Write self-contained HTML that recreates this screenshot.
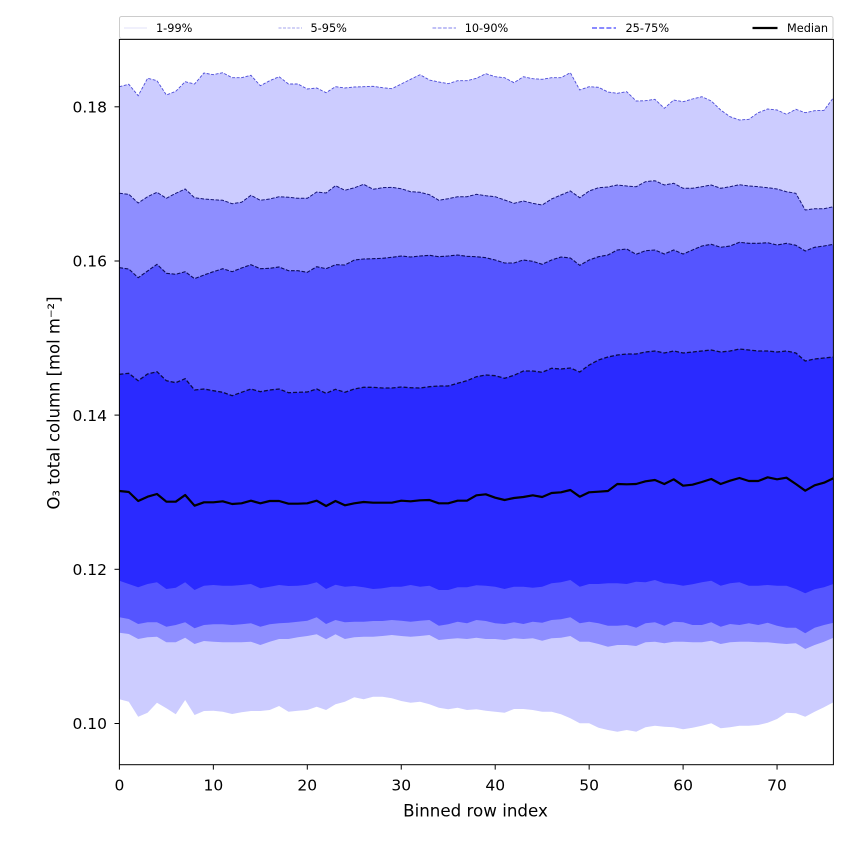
<!DOCTYPE html>
<html>
<head>
<meta charset="utf-8">
<style>
html,body{margin:0;padding:0;background:#fff;}
svg{display:block;}
text{font-family:"DejaVu Sans","Liberation Sans",sans-serif;fill:#000;}
</style>
</head>
<body>
<svg width="850" height="850" viewBox="0 0 850 850" xmlns="http://www.w3.org/2000/svg">
<rect x="0" y="0" width="850" height="850" fill="#fff"/>

<g transform="matrix(9.395 0 0 1 119.4 0)">
  <!-- 1-99 band -->
  <polygon fill="#ccccff" points="0,86.7 1,84.3 2,95.7 3,78.3 4,80.7 5,95 6,91.3 7,81.7 8,84 9,73 10,74.7 11,72.7 12,77.7 13,77.7 14,75.3 15,85.7 16,80.7 17,76.7 18,84 19,84 20,89 21,88 22,92.7 23,86.7 24,88 25,87 26,86.7 27,86.3 28,87.7 29,88.7 30,84 31,79.3 32,74.7 33,80 34,82 35,83.7 36,80.7 37,80.7 38,78.3 39,73.7 40,76.7 41,77.7 42,82.7 43,76.7 44,78.7 45,79.3 46,77.7 47,77.7 48,72.7 49,90 50,86.7 51,87.3 52,92 53,93.3 54,91.7 55,101 56,100.7 57,99.3 58,108.3 59,100 60,101.7 61,99 62,96.7 63,101 64,110 65,116.7 66,120 67,119.3 68,112.7 69,109 70,110 71,114.3 72,109.3 73,112.7 74,110.7 75,110.3 76,97.7 76,702.3 75,707.3 74,711.7 73,716.7 72,713.3 71,712.7 70,719 69,722.7 68,725 67,725.7 66,725.7 65,727.3 64,728.3 63,723.3 62,725.7 61,727.7 60,729.3 59,727.3 58,726.7 57,725.7 56,727.3 55,731.7 54,730 53,731.7 52,730 51,727.7 50,723.3 49,723.3 48,718.3 47,714.3 46,711.7 45,711.7 44,710 43,709 42,709 41,712.7 40,711.7 39,710.7 38,709.3 37,710 36,707.7 35,709.3 34,707.7 33,704.3 32,701.7 31,702.7 30,701 29,698.3 28,696.7 27,696.7 26,699.3 25,697.3 24,701.7 23,704.3 22,710 21,706.7 20,710 19,710.7 18,711.7 17,706 16,710 15,711 14,711 13,712.3 12,714 11,711.7 10,710.7 9,711 8,715 7,700 6,714.3 5,708.3 4,702.7 3,712.7 2,716.7 1,701.7 0,699.3"/>
  <!-- 5-95 band -->
  <polygon fill="#8e8eff" points="0,193.3 1,194.3 2,203 3,196.7 4,192.3 5,198.3 6,193.3 7,189 8,197.7 9,199 10,199.7 11,200.3 12,203.7 13,202.3 14,195.3 15,200.3 16,199 17,196.7 18,197.3 19,198.3 20,198.3 21,192 22,193 23,185.7 24,190.3 25,187.8 26,184.3 27,189.3 28,187.7 29,187.3 30,188.7 31,191.7 32,192.3 33,194.7 34,200.3 35,198.7 36,196.7 37,196.7 38,194.3 39,195.7 40,196.7 41,200 42,203.3 43,201 44,203.3 45,205 46,199 47,195 48,191 49,197.7 50,191 51,187.7 52,187 53,185 54,186 55,186.7 56,181.7 57,180.7 58,185 59,183.3 60,188.3 61,188.3 62,186.7 63,185 64,188.3 65,186.7 66,184.7 67,186 68,186.7 69,187.7 70,189 71,191.7 72,193.3 73,210 74,208.7 75,208.7 76,206.7 76,637.7 75,641.7 74,645 73,649 72,643.3 71,644 70,643.3 69,642.3 68,642.3 67,641.7 66,641.7 65,642.3 64,644 63,640.7 62,642.3 61,642.3 60,641.7 59,641.7 58,643.3 57,641.7 56,642.3 55,646 54,645 53,645 52,646.7 51,644 50,641.7 49,641.7 48,636 47,637.7 46,638.3 45,640.7 44,638.3 43,639 42,638.3 41,640 40,639 39,639 38,637.7 37,639 36,638.3 35,639 34,640 33,635 32,636 31,636.7 30,636 29,635 28,636 27,636.7 26,636.7 25,637.3 24,639 23,634.3 22,639.3 21,634.3 20,636 19,637.3 18,639 17,639 16,641.7 15,645 14,641.7 13,642.3 12,642.3 11,642.3 10,641.7 9,641 8,644 7,637.7 6,642.3 5,642.3 4,636.7 3,637.3 2,639 1,634 0,632.7"/>
  <!-- 10-90 band -->
  <polygon fill="#5555ff" points="0,267.7 1,269 2,277.7 3,271 4,264.3 5,273.3 6,274.3 7,271.7 8,278.7 9,275 10,271.7 11,268.7 12,271.7 13,268 14,264.7 15,268.7 16,268.3 17,267 18,270.7 19,270.7 20,272.3 21,266.7 22,268.7 23,264.7 24,265 25,260 26,259 27,258.7 28,258.3 29,257.3 30,256 31,257 32,256 33,255.3 34,256.7 35,256 36,255 37,256.3 38,256.7 39,257.7 40,260 41,263 42,263 43,260 44,261.3 45,264.3 46,260 47,257 48,258 49,265.3 50,260 51,256.7 52,255 53,250 54,249 55,254.3 56,250.7 57,250 58,254 59,250 60,254 61,250 62,246 63,244.3 64,247.3 65,246 66,242.3 67,243.3 68,243.3 69,242.7 70,245 71,243.3 72,245.3 73,251 74,247.3 75,246 76,244.3 76,622.7 75,625 74,627.7 73,633.3 72,627.7 71,627.7 70,625.7 69,622.7 68,625 67,623.3 66,625 65,624 64,626.7 63,622.3 62,625 61,625 60,622.3 59,621.7 58,625.7 57,622.3 56,623.3 55,627.7 54,625 53,625.7 52,625.7 51,623.3 50,621.7 49,623.3 48,617.3 47,619.3 46,620 45,622.7 44,621.7 43,624 42,622.3 41,624 40,623.3 39,621 38,620 37,623.3 36,621.7 35,624.3 34,625.7 33,620 32,620.7 31,621.7 30,620.7 29,620 28,621 27,621 26,621.7 25,621.7 24,622.3 23,620 22,624 21,617.3 20,620.7 19,621.7 18,622.7 17,623.3 16,624.3 15,626.7 14,623.3 13,624.3 12,625 11,624.3 10,624.3 9,625 8,628.3 7,622.3 6,625 5,626.7 4,622.3 3,622.3 2,624 1,619 0,617.3"/>
  <!-- 25-75 band -->
  <polygon fill="#2a2aff" points="0,374.3 1,373.3 2,380.7 3,374 4,371.7 5,380.7 6,382.7 7,378.7 8,390 9,389 10,390.7 11,392.3 12,395.7 13,392.3 14,389 15,391.7 16,390 17,389 18,392.7 19,392.3 20,392 21,389 22,393.3 23,389.3 24,392.3 25,389 26,387.3 27,387.3 28,388 29,388 30,387 31,387.7 32,388 33,386.7 34,386 35,386 36,383.3 37,380.7 38,376.7 39,375 40,375.7 41,378.3 42,375.3 43,371 44,371 45,372.3 46,368.3 47,369 48,368 49,372 50,365 51,360 52,357 53,355 54,354 55,354 56,352 57,351 58,353 59,351 60,353 61,352 62,351 63,350 64,352 65,351 66,349 67,350 68,351 69,351 70,352 71,351 72,353 73,361 74,359 75,358 76,357 76,584 75,587.3 74,589.3 73,593.3 72,589 71,585.7 70,585.7 69,585 68,585.7 67,585.7 66,582.3 65,583.3 64,585.7 63,580.7 62,582.3 61,584.3 60,585.7 59,584 58,583.3 57,580 56,582.3 55,581.7 54,584 53,583.3 52,583.3 51,584 50,584 49,586.7 48,580 47,582.3 46,583.3 45,586.7 44,587.7 43,586.7 42,586.7 41,589 40,586.7 39,585.7 38,585.3 37,587.3 36,587.3 35,590 34,590 33,585.7 32,586.7 31,585 30,586.7 29,586.7 28,588.3 27,589 26,587.3 25,586 24,586.7 23,584.7 22,589 21,582.3 20,584.7 19,585.7 18,586 17,585 16,586.7 15,588.3 14,584 13,585 12,585.7 11,585.7 10,585 9,585.7 8,590 7,582.3 6,587.7 5,589 4,582.3 3,584 2,587.3 1,584 0,580.7"/>

  <!-- boundary lines -->
  <polyline fill="none" stroke="#4c4cd8" stroke-width="0.9" stroke-dasharray="3,1.5" vector-effect="non-scaling-stroke" points="0,86.7 1,84.3 2,95.7 3,78.3 4,80.7 5,95 6,91.3 7,81.7 8,84 9,73 10,74.7 11,72.7 12,77.7 13,77.7 14,75.3 15,85.7 16,80.7 17,76.7 18,84 19,84 20,89 21,88 22,92.7 23,86.7 24,88 25,87 26,86.7 27,86.3 28,87.7 29,88.7 30,84 31,79.3 32,74.7 33,80 34,82 35,83.7 36,80.7 37,80.7 38,78.3 39,73.7 40,76.7 41,77.7 42,82.7 43,76.7 44,78.7 45,79.3 46,77.7 47,77.7 48,72.7 49,90 50,86.7 51,87.3 52,92 53,93.3 54,91.7 55,101 56,100.7 57,99.3 58,108.3 59,100 60,101.7 61,99 62,96.7 63,101 64,110 65,116.7 66,120 67,119.3 68,112.7 69,109 70,110 71,114.3 72,109.3 73,112.7 74,110.7 75,110.3 76,97.7"/>
  <polyline fill="none" stroke="#161678" stroke-width="1" stroke-dasharray="3.5,1.5" vector-effect="non-scaling-stroke" points="0,193.3 1,194.3 2,203 3,196.7 4,192.3 5,198.3 6,193.3 7,189 8,197.7 9,199 10,199.7 11,200.3 12,203.7 13,202.3 14,195.3 15,200.3 16,199 17,196.7 18,197.3 19,198.3 20,198.3 21,192 22,193 23,185.7 24,190.3 25,187.8 26,184.3 27,189.3 28,187.7 29,187.3 30,188.7 31,191.7 32,192.3 33,194.7 34,200.3 35,198.7 36,196.7 37,196.7 38,194.3 39,195.7 40,196.7 41,200 42,203.3 43,201 44,203.3 45,205 46,199 47,195 48,191 49,197.7 50,191 51,187.7 52,187 53,185 54,186 55,186.7 56,181.7 57,180.7 58,185 59,183.3 60,188.3 61,188.3 62,186.7 63,185 64,188.3 65,186.7 66,184.7 67,186 68,186.7 69,187.7 70,189 71,191.7 72,193.3 73,210 74,208.7 75,208.7 76,206.7"/>
  <polyline fill="none" stroke="#0c0c5a" stroke-width="1.1" stroke-dasharray="3.7,1.6" vector-effect="non-scaling-stroke" points="0,267.7 1,269 2,277.7 3,271 4,264.3 5,273.3 6,274.3 7,271.7 8,278.7 9,275 10,271.7 11,268.7 12,271.7 13,268 14,264.7 15,268.7 16,268.3 17,267 18,270.7 19,270.7 20,272.3 21,266.7 22,268.7 23,264.7 24,265 25,260 26,259 27,258.7 28,258.3 29,257.3 30,256 31,257 32,256 33,255.3 34,256.7 35,256 36,255 37,256.3 38,256.7 39,257.7 40,260 41,263 42,263 43,260 44,261.3 45,264.3 46,260 47,257 48,258 49,265.3 50,260 51,256.7 52,255 53,250 54,249 55,254.3 56,250.7 57,250 58,254 59,250 60,254 61,250 62,246 63,244.3 64,247.3 65,246 66,242.3 67,243.3 68,243.3 69,242.7 70,245 71,243.3 72,245.3 73,251 74,247.3 75,246 76,244.3"/>
  <polyline fill="none" stroke="#0a0a40" stroke-width="1.3" stroke-dasharray="4,2" vector-effect="non-scaling-stroke" points="0,374.3 1,373.3 2,380.7 3,374 4,371.7 5,380.7 6,382.7 7,378.7 8,390 9,389 10,390.7 11,392.3 12,395.7 13,392.3 14,389 15,391.7 16,390 17,389 18,392.7 19,392.3 20,392 21,389 22,393.3 23,389.3 24,392.3 25,389 26,387.3 27,387.3 28,388 29,388 30,387 31,387.7 32,388 33,386.7 34,386 35,386 36,383.3 37,380.7 38,376.7 39,375 40,375.7 41,378.3 42,375.3 43,371 44,371 45,372.3 46,368.3 47,369 48,368 49,372 50,365 51,360 52,357 53,355 54,354 55,354 56,352 57,351 58,353 59,351 60,353 61,352 62,351 63,350 64,352 65,351 66,349 67,350 68,351 69,351 70,352 71,351 72,353 73,361 74,359 75,358 76,357"/>
  <!-- median -->
  <polyline fill="none" stroke="#000" stroke-width="2.2" stroke-linejoin="round" vector-effect="non-scaling-stroke" points="0,491 1,492 2,501 3,496.7 4,494 5,501.7 6,501.7 7,495 8,505.7 9,502.3 10,502.3 11,501.3 12,504 13,503.3 14,500.7 15,503.3 16,501 17,501 18,503.7 19,503.7 20,503.3 21,500.7 22,506 23,501 24,505.3 25,503.3 26,502 27,502.7 28,502.7 29,502.7 30,500.7 31,501.3 32,500.3 33,500 34,503.3 35,503.3 36,500.7 37,500.7 38,495.3 39,494.3 40,497.7 41,500 42,498 43,497 44,495.3 45,497 46,493 47,492.3 48,490 49,496.7 50,492.3 51,491.7 52,491 53,484 54,484.3 55,484 56,481.3 57,480 58,484 59,479.3 60,485.7 61,484.7 62,482 63,479 64,484 65,480.7 66,478 67,481 68,481 69,477.3 70,479.3 71,477.7 72,484 73,490.7 74,485.3 75,482.7 76,478.3"/>
</g>

<!-- spines -->
<rect x="119.4" y="39.4" width="714" height="725.3" fill="none" stroke="#000" stroke-width="1"/>

<!-- y ticks -->
<g stroke="#000" stroke-width="1">
  <line x1="114.5" y1="106.8" x2="119.4" y2="106.8"/>
  <line x1="114.5" y1="261" x2="119.4" y2="261"/>
  <line x1="114.5" y1="415.1" x2="119.4" y2="415.1"/>
  <line x1="114.5" y1="569.3" x2="119.4" y2="569.3"/>
  <line x1="114.5" y1="723.5" x2="119.4" y2="723.5"/>
</g>
<g font-size="15.5" text-anchor="end">
  <text x="107" y="112.5">0.18</text>
  <text x="107" y="266.7">0.16</text>
  <text x="107" y="420.8">0.14</text>
  <text x="107" y="575">0.12</text>
  <text x="107" y="729.2">0.10</text>
</g>

<!-- x ticks -->
<g stroke="#000" stroke-width="1">
  <line x1="119.4" y1="764.7" x2="119.4" y2="769.6"/>
  <line x1="213.35" y1="764.7" x2="213.35" y2="769.6"/>
  <line x1="307.3" y1="764.7" x2="307.3" y2="769.6"/>
  <line x1="401.25" y1="764.7" x2="401.25" y2="769.6"/>
  <line x1="495.2" y1="764.7" x2="495.2" y2="769.6"/>
  <line x1="589.15" y1="764.7" x2="589.15" y2="769.6"/>
  <line x1="683.1" y1="764.7" x2="683.1" y2="769.6"/>
  <line x1="777.05" y1="764.7" x2="777.05" y2="769.6"/>
</g>
<g font-size="15.5" text-anchor="middle">
  <text x="119.4" y="790.5">0</text>
  <text x="213.35" y="790.5">10</text>
  <text x="307.3" y="790.5">20</text>
  <text x="401.25" y="790.5">30</text>
  <text x="495.2" y="790.5">40</text>
  <text x="589.15" y="790.5">50</text>
  <text x="683.1" y="790.5">60</text>
  <text x="777.05" y="790.5">70</text>
</g>

<!-- axis labels -->
<text x="475.5" y="816.5" font-size="16.7" text-anchor="middle">Binned row index</text>
<text transform="translate(59.5,403) rotate(-90)" font-size="16.7" text-anchor="middle" textLength="213" lengthAdjust="spacingAndGlyphs">O₃ total column [mol m⁻²]</text>

<!-- legend -->
<rect x="119.5" y="16.5" width="713.5" height="22" rx="2" ry="2" fill="#fff" fill-opacity="0.8" stroke="#cccccc" stroke-width="1"/>
<line x1="124" y1="28" x2="147" y2="28" stroke="#d8d8f8" stroke-width="0.8"/>
<line x1="278.5" y1="28" x2="302" y2="28" stroke="#a4a4ee" stroke-width="0.9" stroke-dasharray="3,1.5"/>
<line x1="432.5" y1="28" x2="456" y2="28" stroke="#8080ee" stroke-width="1.1" stroke-dasharray="3.7,1.6"/>
<line x1="592" y1="28" x2="616" y2="28" stroke="#6464ff" stroke-width="1.6" stroke-dasharray="5,2.2"/>
<line x1="752.5" y1="28" x2="777.5" y2="28" stroke="#000" stroke-width="2.2"/>
<g font-size="11.3">
  <text x="156" y="32">1-99%</text>
  <text x="310.5" y="32">5-95%</text>
  <text x="464.7" y="32">10-90%</text>
  <text x="625.5" y="32">25-75%</text>
  <text x="787" y="32">Median</text>
</g>
</svg>
</body>
</html>
